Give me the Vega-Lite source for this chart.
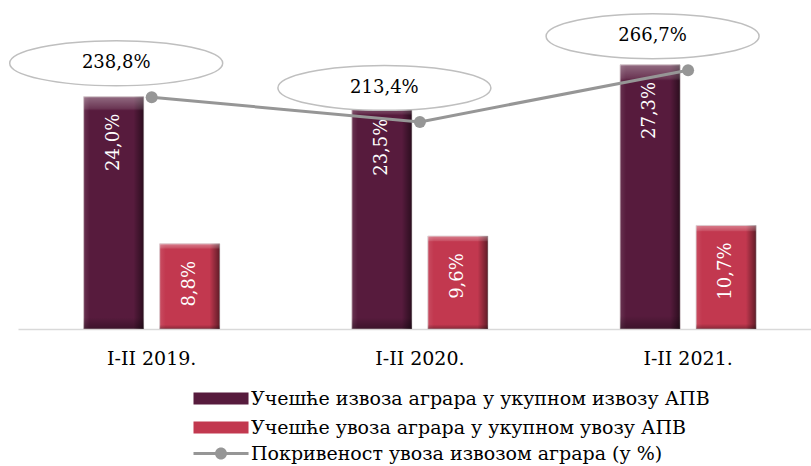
{
  "$schema": "https://vega.github.io/schema/vega-lite/v6.json",
  "width": 793,
  "height": 329,
  "autosize": {"type": "none"},
  "padding": {"left": 18, "top": 0, "right": 0, "bottom": 137},
  "background": "white",
  "datasets": {
    "bars": [
      {"period": "I-II 2019.", "series": "Учешће извоза аграра у укупном извозу АПВ", "value": 24.0, "label": "24,0%"},
      {"period": "I-II 2019.", "series": "Учешће увоза аграра у укупном увозу АПВ", "value": 8.8, "label": "8,8%"},
      {"period": "I-II 2020.", "series": "Учешће извоза аграра у укупном извозу АПВ", "value": 23.5, "label": "23,5%"},
      {"period": "I-II 2020.", "series": "Учешће увоза аграра у укупном увозу АПВ", "value": 9.6, "label": "9,6%"},
      {"period": "I-II 2021.", "series": "Учешће извоза аграра у укупном извозу АПВ", "value": 27.3, "label": "27,3%"},
      {"period": "I-II 2021.", "series": "Учешће увоза аграра у укупном увозу АПВ", "value": 10.7, "label": "10,7%"}
    ],
    "line": [
      {"period": "I-II 2019.", "coverage": 238.8, "label": "238,8%"},
      {"period": "I-II 2020.", "coverage": 213.4, "label": "213,4%"},
      {"period": "I-II 2021.", "coverage": 266.7, "label": "266,7%"}
    ]
  },
  "config": {
    "view": {"stroke": null},
    "font": "DejaVu Serif",
    "axisX": {
      "domainColor": "#d9d9d9",
      "domainWidth": 1.5,
      "ticks": false,
      "grid": false,
      "labelFont": "DejaVu Serif",
      "labelFontSize": 19,
      "labelColor": "#000000",
      "labelPadding": 20,
      "labelAngle": 0
    },
    "legend": {
      "orient": "none",
      "direction": "vertical",
      "padding": 0,
      "labelFont": "DejaVu Serif",
      "labelFontSize": 19,
      "labelColor": "#000000",
      "labelLimit": 700,
      "symbolSize": 144,
      "labelOffset": 42,
      "rowPadding": 9,
      "symbolStrokeWidth": 0,
      "symbolOpacity": 1
    }
  },
  "layer": [
    {
      "data": {"name": "bars"},
      "encoding": {
        "x": {"field": "period", "type": "nominal", "sort": null, "title": null,
              "scale": {"paddingInner": 0.0834, "paddingOuter": 0.0201, "align": 1}},
        "xOffset": {"field": "series", "type": "nominal", "sort": null,
                    "scale": {"paddingInner": 0.2105, "paddingOuter": 0.722}},
        "y": {"field": "value", "type": "quantitative", "axis": null,
              "scale": {"domain": [0, 34], "nice": false}}
      },
      "layer": [
        {
          "mark": {"type": "bar", "stroke": "#d4c8cc", "strokeWidth": 0.8},
          "encoding": {
            "color": {
              "field": "series", "type": "nominal",
              "scale": {
                "domain": ["Учешће извоза аграра у укупном извозу АПВ", "Учешће увоза аграра у укупном увозу АПВ"],
                "range": ["#571b3d", "#c2384f"]
              },
              "legend": {
                "legendX": 172,
                "legendY": 389,
                "title": null,
                "symbolType": "M-1,-1H8.17V1H-1Z"
              }
            }
          }
        },
        {
          "mark": {
            "type": "bar",
            "fill": {"gradient": "linear", "x1": 0, "y1": 0, "x2": 1, "y2": 0,
                     "stops": [
                       {"offset": 0, "color": "rgba(255,255,255,0.10)"},
                       {"offset": 0.1, "color": "rgba(255,255,255,0)"},
                       {"offset": 0.83, "color": "rgba(0,0,0,0)"},
                       {"offset": 1, "color": "rgba(0,0,0,0.5)"}
                     ]}
          }
        },
        {
          "mark": {
            "type": "bar",
            "fill": {"gradient": "linear", "x1": 0, "y1": 0, "x2": 0, "y2": 1,
                     "stops": [
                       {"offset": 0, "color": "rgba(255,255,255,0.35)"},
                       {"offset": 0.05, "color": "rgba(255,255,255,0.12)"},
                       {"offset": 0.06, "color": "rgba(255,255,255,0)"},
                       {"offset": 0.95, "color": "rgba(0,0,0,0)"},
                       {"offset": 1, "color": "rgba(0,0,0,0.3)"}
                     ]}
          }
        },
        {
          "mark": {"type": "text", "angle": 270, "align": "right", "baseline": "middle",
                   "dx": -17, "font": "DejaVu Serif", "fontSize": 18, "fill": "#ffffff"},
          "encoding": {"text": {"field": "label"}}
        }
      ]
    },
    {
      "data": {"name": "line"},
      "encoding": {
        "x": {"field": "period", "type": "nominal", "sort": null, "title": null,
              "scale": {"paddingInner": 0.0834, "paddingOuter": 0.0201, "align": 1}},
        "y": {"field": "coverage", "type": "quantitative", "axis": null,
              "scale": {"domain": [0, 339], "nice": false}}
      },
      "layer": [
        {
          "mark": {"type": "line", "strokeWidth": 3, "color": "#969696"}
        },
        {
          "mark": {"type": "point", "filled": true, "size": 144, "opacity": 1, "color": "#969696"}
        },
        {
          "mark": {"type": "point", "filled": true, "size": 144, "opacity": 0, "color": "#969696"},
          "encoding": {
            "shape": {
              "datum": "Покривеност увоза извозом аграра (у %)",
              "scale": {"range": ["M-1,-0.25H8.17V0.25H-1Z M2.585,0C2.585,-0.5523,3.0327,-1,3.585,-1C4.1373,-1,4.585,-0.5523,4.585,0C4.585,0.5523,4.1373,1,3.585,1C3.0327,1,2.585,0.5523,2.585,0Z"]},
              "legend": {
                "legendX": 172,
                "legendY": 444,
                "title": null,
                "symbolFillColor": "#969696"
              }
            }
          }
        },
        {
          "mark": {
            "type": "point",
            "shape": "M-1,0C-1,-0.1165,-0.5523,-0.211,0,-0.211C0.5523,-0.211,1,-0.1165,1,0C1,0.1165,0.5523,0.211,0,0.211C-0.5523,0.211,-1,0.1165,-1,0Z",
            "size": 45369,
            "filled": true,
            "fill": "#ffffff",
            "stroke": "#bfbfbf",
            "strokeWidth": 1.5,
            "opacity": 1,
            "xOffset": -35.5,
            "yOffset": -34
          }
        },
        {
          "mark": {"type": "text", "font": "DejaVu Serif", "fontSize": 18, "fill": "#000000",
                   "dx": -35.5, "dy": -34, "align": "center", "baseline": "middle"},
          "encoding": {"text": {"field": "label"}}
        }
      ]
    }
  ],
  "resolve": {"scale": {"y": "independent"}}
}
